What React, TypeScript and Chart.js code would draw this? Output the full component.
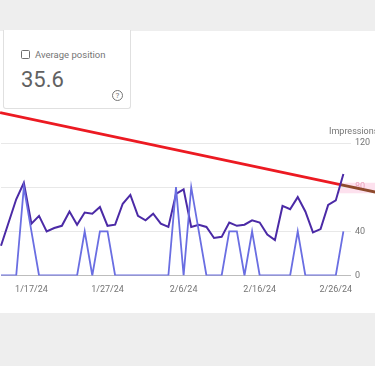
import React, { useEffect, useRef } from "react";
import { Chart, registerables } from "chart.js";

Chart.register(...registerables);

const dates = [
  "1/13/24", "1/14/24", "1/15/24", "1/16/24", "1/17/24", "1/18/24", "1/19/24", "1/20/24", "1/21/24", "1/22/24",
  "1/23/24", "1/24/24", "1/25/24", "1/26/24", "1/27/24", "1/28/24", "1/29/24", "1/30/24", "1/31/24", "2/1/24",
  "2/2/24", "2/3/24", "2/4/24", "2/5/24", "2/6/24", "2/7/24", "2/8/24", "2/9/24", "2/10/24", "2/11/24",
  "2/12/24", "2/13/24", "2/14/24", "2/15/24", "2/16/24", "2/17/24", "2/18/24", "2/19/24", "2/20/24", "2/21/24",
  "2/22/24", "2/23/24", "2/24/24", "2/25/24", "2/26/24", "2/27/24", "2/28/24",
];

const impressions = [
  27, 48, 69, 84, 47, 54, 40, 43, 45, 58,
  46, 57, 56, 62, 45, 46, 65, 73, 54, 50,
  56, 47, 44, 74, 78, 44, 46, 44, 34, 35,
  48, 45, 46, 50, 48, 37, 32, 63, 60, 71,
  58, 39, 42, 64, 68, 92,
];

const clicks = [
  0, 0, 0, 2, 1, 0, 0, 0, 0, 0,
  0, 1, 0, 1, 1, 0, 0, 0, 0, 0,
  0, 0, 0, 2, 0, 2, 1, 0, 0, 0,
  1, 1, 0, 1, 0, 0, 0, 0, 0, 1,
  0, 0, 0, 0, 0, 1,
];

const xTickLabels = ["1/17/24", "1/27/24", "2/6/24", "2/16/24", "2/26/24"];
const yTicks = [0, 40, 80, 120];

// hand-drawn annotation line, in data space (index, impressions)
const trendStart = [-0.12, 147.6];
const trendEnd = [49.2, 75.6];
const highlightFromIndex = 44.6;

const FONT = "Roboto, 'Noto Sans', Arial, sans-serif";

export default function App() {
  const ref = useRef<HTMLCanvasElement | null>(null);

  useEffect(() => {
    if (!ref.current) return;
    Chart.defaults.font.family = FONT;

    const overlay = {
      id: "overlay",
      beforeDraw(chart: any) {
        const { ctx, scales } = chart;
        const x = scales.x;
        const y = scales.y;
        const x0 = x.getPixelForValue(highlightFromIndex - 0.2);
        const yTop = y.getPixelForValue(84);
        const yBot = y.getPixelForValue(74.5);
        ctx.save();
        ctx.fillStyle = "rgba(252, 205, 226, 0.6)";
        ctx.fillRect(x0, yTop, chart.width - x0, yBot - yTop);
        ctx.restore();
      },
      beforeDatasetsDraw(chart: any) {
        const { ctx, scales } = chart;
        const x = scales.x;
        const y = scales.y;
        const px1 = x.getPixelForValue(trendStart[0]);
        const py1 = y.getPixelForValue(trendStart[1]);
        const px2 = x.getPixelForValue(trendEnd[0]);
        const py2 = y.getPixelForValue(trendEnd[1]);
        const t = (highlightFromIndex - trendStart[0]) / (trendEnd[0] - trendStart[0]);
        const mx = px1 + (px2 - px1) * t;
        const my = py1 + (py2 - py1) * t;
        ctx.save();
        ctx.lineWidth = 2.8;
        ctx.lineCap = "butt";
        ctx.strokeStyle = "#ec1a22";
        ctx.beginPath();
        ctx.moveTo(px1, py1);
        ctx.lineTo(mx, my);
        ctx.stroke();
        ctx.strokeStyle = "#8e4a2c";
        ctx.beginPath();
        ctx.moveTo(mx, my);
        ctx.lineTo(px2, py2);
        ctx.stroke();
        ctx.restore();
      },
      afterDraw(chart: any) {
        const { ctx, chartArea } = chart;
        ctx.save();
        ctx.font = `9px ${FONT}`;
        ctx.fillStyle = "#757575";
        ctx.textAlign = "left";
        ctx.textBaseline = "middle";
        ctx.fillText("Impressions", chartArea.right - 22, chartArea.top - 11);
        ctx.restore();
      },
    };

    const chart = new Chart(ref.current, {
      type: "line",
      data: {
        labels: dates,
        datasets: [
          {
            label: "Clicks",
            data: clicks,
            yAxisID: "y1",
            borderColor: "#6a6ee2",
            borderWidth: 1.8,
            pointRadius: 0,
            tension: 0,
            fill: false,
          },
          {
            label: "Impressions",
            data: impressions,
            yAxisID: "y",
            borderColor: "#4b2aa6",
            borderWidth: 2,
            pointRadius: 0,
            tension: 0,
            fill: false,
          },
        ],
      },
      options: {
        animation: false,
        responsive: false,
        maintainAspectRatio: false,
        layout: { autoPadding: false, padding: { top: 43, left: 1, right: 0, bottom: 0 } },
        plugins: { legend: { display: false }, tooltip: { enabled: false } },
        scales: {
          x: {
            grid: { display: false, drawTicks: false },
            border: { display: false },
            afterFit(scale: any) {
              scale.height = 37.5;
              scale.paddingLeft = 0;
              scale.paddingRight = 0;
            },
            ticks: {
              autoSkip: false,
              maxRotation: 0,
              padding: 9,
              color: "#757575",
              font: { size: 9, family: FONT },
              callback(this: any, _v: any, i: number) {
                const l = dates[i];
                return xTickLabels.includes(l) ? l : "";
              },
            },
          },
          y: {
            position: "right",
            min: 0,
            max: 120,
            afterFit(scale: any) {
              scale.width = 24;
              scale.paddingTop = 0;
              scale.paddingBottom = 0;
            },
            afterBuildTicks(scale: any) {
              scale.ticks = yTicks.map((v) => ({ value: v }));
            },
            grid: {
              drawTicks: false,
              color: (c: any) => (c.tick && c.tick.value === 0 ? "#bdbdbd" : "#e8e8e8"),
              lineWidth: 1,
            },
            border: { display: false },
            ticks: {
              padding: 4,
              color: (c: any) => (c.tick && c.tick.value === 80 ? "#eba3bd" : "#757575"),
              font: { size: 9, family: FONT },
            },
          },
          y1: {
            position: "left",
            display: false,
            min: 0,
            max: 3,
          },
        },
      },
      plugins: [overlay],
    });
    return () => chart.destroy();
  }, []);

  return (
    <div
      style={{
        position: "fixed",
        left: 0,
        top: 0,
        width: 375,
        height: 366,
        background: "#ffffff",
        overflow: "hidden",
        fontFamily: FONT,
      }}
    >
      <div style={{ position: "absolute", left: 0, top: 0, width: 375, height: 31, background: "#eeeeee" }} />
      <div style={{ position: "absolute", left: 0, top: 313, width: 375, height: 53, background: "#eeeeee" }} />
      <div
        style={{
          position: "absolute",
          left: 3,
          top: 30,
          width: 128,
          height: 79,
          boxSizing: "border-box",
          border: "1px solid #e0e0e0",
          borderTop: "none",
          borderRadius: "0 0 3px 3px",
          background: "#ffffff",
        }}
      />
      <div
        style={{
          position: "absolute",
          left: 21,
          top: 50,
          width: 9,
          height: 9,
          boxSizing: "border-box",
          border: "1.5px solid #6f6f6f",
          borderRadius: 1.5,
        }}
      />
      <div
        style={{
          position: "absolute",
          left: 35,
          top: 50,
          fontSize: 9.5,
          lineHeight: "9.5px",
          color: "#757575",
          whiteSpace: "nowrap",
        }}
      >
        Average position
      </div>
      <div
        style={{
          position: "absolute",
          left: 21,
          top: 68.8,
          fontSize: 22,
          lineHeight: "22px",
          color: "#616161",
          whiteSpace: "nowrap",
        }}
      >
        35.6
      </div>
      <div
        style={{
          position: "absolute",
          left: 112,
          top: 89.5,
          width: 11,
          height: 11,
          boxSizing: "border-box",
          border: "1px solid #757575",
          borderRadius: "50%",
          color: "#757575",
          fontSize: 8,
          lineHeight: "9px",
          textAlign: "center",
        }}
      >
        ?
      </div>
      <canvas
        ref={ref}
        width={375}
        height={213}
        style={{ position: "absolute", left: 0, top: 100, width: 375, height: 213 }}
      />
    </div>
  );
}
